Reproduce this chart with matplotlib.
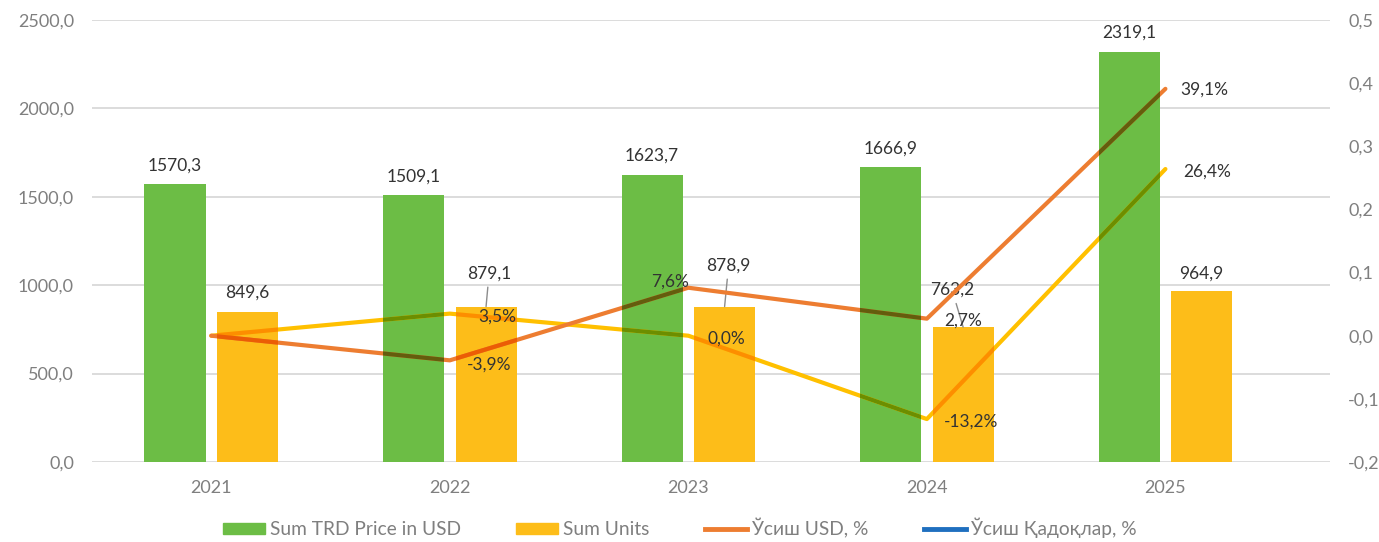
import matplotlib
matplotlib.use("Agg")
import matplotlib.pyplot as plt
import numpy as np
from matplotlib.patches import Patch
from matplotlib.lines import Line2D
from matplotlib.ticker import FuncFormatter, MultipleLocator
from matplotlib.colors import to_rgb

plt.rcParams['font.family'] = ['Lato', 'DejaVu Sans']

years = ["2021", "2022", "2023", "2024", "2025"]
usd = [1570.3, 1509.1, 1623.7, 1666.9, 2319.1]
units = [849.6, 879.1, 878.9, 763.2, 964.9]
growth_usd = [0.0, -0.039, 0.076, 0.027, 0.391]
growth_units = [0.0, 0.035, 0.0, -0.132, 0.264]

C_GREEN = "#6CBD45"
C_YELLOW = "#FDBD19"
C_ORANGE = "#ED7D31"
C_GOLD = "#FFC000"
C_BLUE = "#1F6FBF"
C_TICK = "#7f7f7f"
C_LABEL = "#333333"
FS_TICK = 13
FS_LAB = 12.5
FS_LEG = 13.8

fig = plt.figure(figsize=(13.79, 5.42), dpi=100)
ax = fig.add_axes([92/1379, 80/542, (1330-92)/1379, (462-20)/542])
ax2 = ax.twinx()

x = np.arange(len(years))
w = 0.256
off = 0.152
b1 = ax.bar(x - off, usd, w, color=C_GREEN, zorder=2)
b2 = ax.bar(x + off, units, w, color=C_YELLOW, zorder=2)

ax.set_xlim(-0.5, 4.69)
ax.set_ylim(0, 2500)
ax.yaxis.set_major_locator(MultipleLocator(500))
ax.yaxis.grid(True, color="#d9d9d9", lw=1.3)
ax.set_axisbelow(True)
fmt1 = FuncFormatter(lambda v, p: f"{v:.1f}".replace(".", ","))
ax.yaxis.set_major_formatter(fmt1)
ax.set_xticks(x)
ax.set_xticklabels(years)
for a in (ax, ax2):
    for s in a.spines.values():
        s.set_visible(False)
    a.tick_params(length=0, labelsize=FS_TICK, colors=C_TICK)
ax.tick_params(axis='y', pad=13)
ax.tick_params(axis='x', pad=13)

ax2.set_ylim(-0.2, 0.5)
ax2.yaxis.set_major_locator(MultipleLocator(0.1))
fmt2 = FuncFormatter(lambda v, p: (f"{v:.1f}".replace(".", ",") if abs(v) > 1e-9 else "0,0"))
ax2.yaxis.set_major_formatter(fmt2)
ax2.tick_params(axis='y', pad=13)

def mult(c1, c2):
    a = np.array(to_rgb(c1)); b = np.array(to_rgb(c2))
    return tuple(a * b)

for vals, col in ((growth_units, C_GOLD), (growth_usd, C_ORANGE)):
    ax2.plot(x, vals, color=col, lw=3, solid_capstyle='round', solid_joinstyle='round', zorder=3)
    for bars, bc in ((b1, C_GREEN), (b2, C_YELLOW)):
        for r in bars:
            ln, = ax2.plot(x, vals, color=mult(col, bc), lw=3, solid_capstyle='round',
                           solid_joinstyle='round', zorder=4)
            ln.set_clip_path(r)

def lab(a, xx, yy, s, dx, dy, leader=False):
    kw = dict(textcoords='offset pixels', ha='center', va='center', fontsize=FS_LAB, color=C_LABEL, zorder=6)
    if leader:
        kw['arrowprops'] = dict(arrowstyle='-', color='#8c8c8c', lw=1, shrinkA=2, shrinkB=0)
    a.annotate(s, (xx, yy), xytext=(dx, dy), **kw)

def f1(v):
    return f"{v:.1f}".replace(".", ",")

for i, v in enumerate(usd):
    lab(ax, x[i] - off, v, f1(v), 0, 19)
unit_offsets = [(0, 19, False), (3, 33, True), (4, 41, True), (-11, 37, True), (0, 18, False)]
for i, v in enumerate(units):
    dx, dy, ld = unit_offsets[i]
    lab(ax, x[i] + off, v, f1(v), dx, dy, ld)

def fp(v):
    return f"{v*100:.1f}%".replace(".", ",")

usd_offsets = [None, (39, -4), (-18, 6), (36, -2), (39, -1)]
unit_p_offsets = [None, (48, -3), (38, -3), (44, -3), (42, -3)]
for i in range(len(years)):
    if usd_offsets[i]:
        lab(ax2, x[i], growth_usd[i], fp(growth_usd[i]), *usd_offsets[i])
    if unit_p_offsets[i]:
        lab(ax2, x[i], growth_units[i], fp(growth_units[i]), *unit_p_offsets[i])

handles = [Patch(color=C_GREEN), Patch(color=C_YELLOW),
           Line2D([0], [0], color=C_ORANGE, lw=3.5), Line2D([0], [0], color=C_BLUE, lw=3.5)]
labels = ["Sum TRD Price in USD", "Sum Units", "Ўсиш USD, %", "Ўсиш Қадоқлар, %"]
leg = fig.legend(handles, labels, loc='center', bbox_to_anchor=(0.4928, 0.026), ncol=4,
                 frameon=False, fontsize=FS_LEG, handlelength=2.2, handleheight=0.52,
                 handletextpad=0.25, columnspacing=2.9)
for t in leg.get_texts():
    t.set_color(C_TICK)

fig.savefig("out.png", dpi=100)
